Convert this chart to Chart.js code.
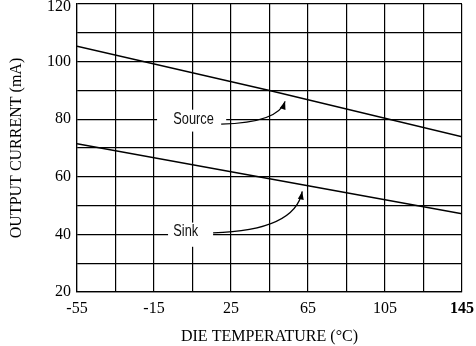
<!DOCTYPE html>
<html>
<head>
<meta charset="utf-8">
<script src="https://cdn.jsdelivr.net/npm/chart.js@4.4.1/dist/chart.umd.min.js"></script>
<style>
  html, body { margin: 0; padding: 0; background: #fff; }
  #wrap { width: 476px; height: 346px; position: relative; }
</style>
</head>
<body>
<div id="wrap"><canvas id="chart"></canvas></div>
<script>
// output current vs die temperature
const sourceTemps = [-55, 45, 145];
const sourceMa = [105.3, 90.0, 73.9];
const sinkTemps = [-55, 65, 145];
const sinkMa = [71.5, 56.9, 47.2];

const xGrid = [-55, -35, -15, 5, 25, 45, 65, 85, 105, 125, 145];
const xTickLabels = ['-55', '-15', '25', '65', '105', '145'];
const yTickLabels = ['20', '40', '60', '80', '100', '120'];

const serif = "'Liberation Serif', 'Times New Roman', serif";
const sans = "'Liberation Sans', Arial, sans-serif";

// callout labels, in data units
const callouts = [
  { text: 'Source', tx: -5, ty: 80, box: [-13.4, 83.3, 22.5, 75.7],
    from: [19.9, 78.3], ctrl: [49.5, 78.8], to: [53.1, 86.2] },
  { text: 'Sink', tx: -5, ty: 40.9, box: [-7.7, 44.1, 15.7, 35.7],
    from: [15.7, 40.5], ctrl: [58.3, 41.3], to: [62.0, 54.9] }
];

const calloutPlugin = {
  id: 'callouts',
  beforeDatasetsDraw(chart) {
    const { ctx, scales: { x, y } } = chart;
    ctx.save();
    callouts.forEach(c => {
      const bx0 = x.getPixelForValue(c.box[0]), by0 = y.getPixelForValue(c.box[1]);
      const bx1 = x.getPixelForValue(c.box[2]), by1 = y.getPixelForValue(c.box[3]);
      ctx.fillStyle = '#fff';
      ctx.fillRect(bx0, by0, bx1 - bx0, by1 - by0);

      // condensed sans label
      ctx.save();
      ctx.fillStyle = '#111';
      ctx.font = '16px ' + sans;
      ctx.textAlign = 'left';
      ctx.textBaseline = 'middle';
      ctx.translate(x.getPixelForValue(c.tx), y.getPixelForValue(c.ty));
      ctx.scale(0.8, 1);
      ctx.fillText(c.text, 0, 0);
      ctx.restore();

      const fx = x.getPixelForValue(c.from[0]), fy = y.getPixelForValue(c.from[1]);
      const cx = x.getPixelForValue(c.ctrl[0]), cy = y.getPixelForValue(c.ctrl[1]);
      const tx = x.getPixelForValue(c.to[0]), ty = y.getPixelForValue(c.to[1]);
      ctx.strokeStyle = '#000';
      ctx.lineWidth = 1.3;
      ctx.beginPath();
      ctx.moveTo(fx, fy);
      ctx.quadraticCurveTo(cx, cy, tx, ty);
      ctx.stroke();

      // arrow head along the end tangent
      const ang = Math.atan2(ty - cy, tx - cx);
      const len = 8, half = 3;
      ctx.fillStyle = '#000';
      ctx.beginPath();
      ctx.moveTo(tx, ty);
      ctx.lineTo(tx - len * Math.cos(ang) + half * Math.sin(ang), ty - len * Math.sin(ang) - half * Math.cos(ang));
      ctx.lineTo(tx - len * Math.cos(ang) - half * Math.sin(ang), ty - len * Math.sin(ang) + half * Math.cos(ang));
      ctx.closePath();
      ctx.fill();
    });
    ctx.restore();
  }
};

new Chart(document.getElementById('chart'), {
  type: 'line',
  data: {
    datasets: [
      {
        label: 'Source',
        data: sourceTemps.map((t, i) => ({ x: t, y: sourceMa[i] })),
        borderColor: '#000',
        borderWidth: 1.5,
        pointRadius: 0,
        fill: false
      },
      {
        label: 'Sink',
        data: sinkTemps.map((t, i) => ({ x: t, y: sinkMa[i] })),
        borderColor: '#000',
        borderWidth: 1.5,
        pointRadius: 0,
        fill: false
      }
    ]
  },
  options: {
    responsive: true,
    maintainAspectRatio: false,
    animation: false,
    layout: { padding: { top: 4, right: 14, left: 0, bottom: 0 } },
    plugins: { legend: { display: false }, tooltip: { enabled: false } },
    scales: {
      x: {
        type: 'linear',
        min: -55,
        max: 145,
        afterBuildTicks: s => { s.ticks = xGrid.map(v => ({ value: v })); },
        afterFit: s => { s.height = 54; s.paddingLeft = 0; s.paddingRight = 0; },
        grid: { color: '#000', lineWidth: 1.2, drawTicks: false },
        border: { color: '#000', width: 1.2 },
        ticks: {
          color: '#000',
          padding: 7,
          maxRotation: 0,
          autoSkip: false,
          font: c => ({ family: serif, size: 16, weight: c.tick && c.tick.value === 145 ? 'bold' : 'normal' }),
          callback: v => xTickLabels.includes(String(v)) ? String(v) : ''
        },
        title: {
          display: true,
          text: 'DIE TEMPERATURE (°C)',
          color: '#000',
          font: { family: serif, size: 16 },
          padding: { top: 0, bottom: 0 }
        }
      },
      y: {
        min: 20,
        max: 120,
        afterFit: s => { s.width = 77; s.paddingTop = 0; s.paddingBottom = 0; },
        grid: { color: '#000', lineWidth: 1.2, drawTicks: false },
        border: { color: '#000', width: 1.2 },
        ticks: {
          stepSize: 10,
          color: '#000',
          padding: 6,
          // the top label sits a little below its grid line so it stays on the canvas
          font: c => ({ family: serif, size: 16, lineHeight: c.tick && c.tick.value === 120 ? 0.35 : 1.2 }),
          callback: v => {
            if (!yTickLabels.includes(String(v))) return '';
            return v === 120 ? ['', String(v)] : String(v);
          }
        },
        title: {
          display: true,
          text: 'OUTPUT CURRENT (mA)',
          color: '#000',
          font: { family: serif, size: 16 },
          padding: { top: 7, bottom: 0 }
        }
      }
    }
  },
  plugins: [calloutPlugin]
});
</script>
</body>
</html>
